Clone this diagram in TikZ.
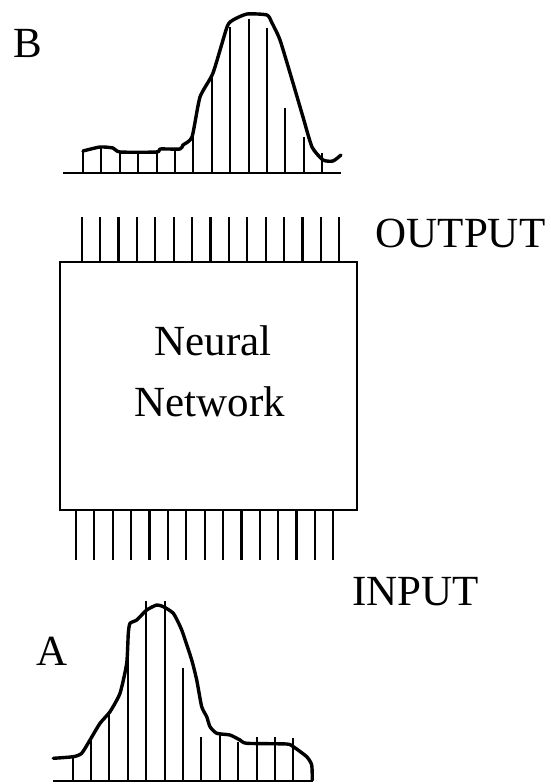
\documentclass[tikz,border=0pt]{standalone}
\usepackage{fontspec}
\setmainfont{Liberation Serif}
\begin{document}
\begin{tikzpicture}[x=1pt,y=-1pt,
  lbl/.style={inner sep=0pt, font=\fontsize{43}{46}\selectfont},
  pin/.style={line width=2.2pt},
  bar/.style={line width=2pt},
  axis/.style={line width=2.6pt},
  curve/.style={line width=3.4pt, line join=round, line cap=round},
  nnbox/.style={draw, line width=2.6pt, rectangle, minimum width=297pt, minimum height=248pt, inner sep=0pt}]
\useasboundingbox (0,0) rectangle (550,784);
\fill[white] (0,0) rectangle (550,784);

% Neural network box
\node[nnbox] (nn) at (208.5,386) {};
\node[lbl, anchor=base] (neural) at (213,355) {Neural};
\node[lbl, anchor=base] (network) at (210,416) {Network};

% output pins
\foreach \i in {0,...,14} {
  \coordinate (o\i) at ({81.7+18.4*\i},217);
  \draw[pin] (o\i) -- ++(0,45);
}
% input pins
\foreach \i in {0,...,14} {
  \coordinate (in\i) at ({76+18.38*\i},510);
  \draw[pin] (in\i) -- ++(0,50);
}

\node[lbl, anchor=base west] (out) at (375.5,247) {OUTPUT};
\node[lbl, anchor=base west] (inp) at (352,605) {INPUT};
\node[lbl, anchor=base west] (lB) at (13,58) {B};
\node[lbl, anchor=base west] (lA) at (36,665) {A};

% Graph B
\draw[axis] (63,173) -- (341,173);
\foreach \t [count=\k from 0] in {150,148,152,152,150,150,135,73,27,19,28,108,137,153} {
  \draw[bar] ({83+18.4*\k},173) -- ({83+18.4*\k},\t);
}
\draw[curve] plot[smooth, tension=0.35] coordinates {
 (83,151) (100,147) (113,148) (120,152) (157,152) (160,149) (180,149) (183,145)
 (192,137) (200,97) (213,73) (227,27) (233,20) (247,14) (267,15) (272,23)
 (280,40) (293,83) (303,117) (312,147) (323,160) (333,161) (341,155)};

% Graph A
\draw[axis] (53,781) -- (313,781);
\foreach \t [count=\k from 0] in {758,737,712,653,601,601,668,737,735,742,737,737,738} {
  \draw[bar] ({72.7+18.38*\k},781) -- ({72.7+18.38*\k},\t);
}
\draw[curve] plot[smooth, tension=0.35] coordinates {
 (53.3,758.3) (73.3,756.7) (81.7,753.3) (90,740) (100,723.3) (110,711.7) (120,693.3)
 (126.7,663.3) (128.3,633.3) (130,623.3) (136.7,620) (146.7,610) (156.7,605) (163.3,606.7)
 (173.3,613.3) (181.7,630) (191.7,660) (196.7,680) (201.7,706.7) (206.7,716.7) (210,726.7)
 (216.7,733.3) (230,735) (240,740) (246.7,743.3) (286.7,744) (293.3,746.7) (306.7,756.7)
 (311.7,765) (312.3,780)};
\end{tikzpicture}
\end{document}
